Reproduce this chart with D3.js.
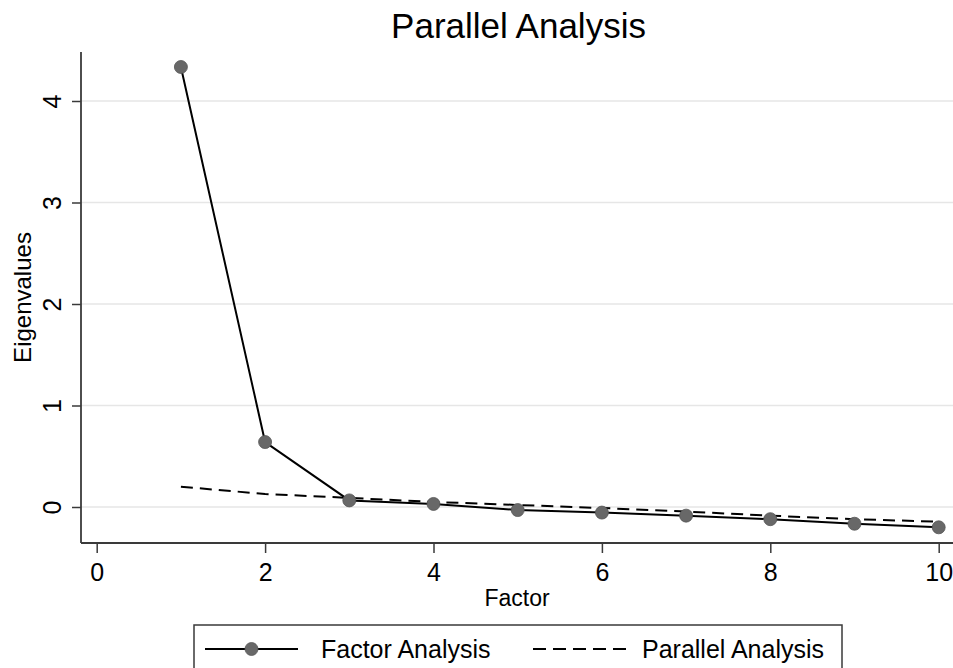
<!DOCTYPE html>
<html>
<head>
<meta charset="utf-8">
<script src="https://cdn.jsdelivr.net/npm/d3@7"></script>
<style>
  body { margin: 0; background: #ffffff; }
  text { font-family: "Liberation Sans", Arial, sans-serif; fill: #000; }
</style>
</head>
<body>
<div id="chart"></div>
<script>
// Chart data
const factors = [1, 2, 3, 4, 5, 6, 7, 8, 9, 10];
const factorEigen = [4.335, 0.64, 0.065, 0.03, -0.03, -0.055, -0.085, -0.12, -0.165, -0.2];
const parallelEigen = [0.20, 0.128, 0.09, 0.05, 0.02, -0.01, -0.045, -0.085, -0.12, -0.145];
const xTicks = [0, 2, 4, 6, 8, 10];
const yTicks = [0, 1, 2, 3, 4];
const legendLabels = ["Factor Analysis", "Parallel Analysis"];

const width = 953;
const height = 668;

// plot area edges
const plotLeft = 81, plotRight = 953, plotTop = 52, plotBottom = 543;

const svg = d3.select("#chart")
    .append("svg")
    .attr("width", width)
    .attr("height", height);

svg.append("rect")
    .attr("width", width)
    .attr("height", height)
    .attr("fill", "#ffffff");

const x = d3.scaleLinear().domain([0, 10]).range([96.7, 938.7]);
const y = d3.scaleLinear().domain([0, 4]).range([507, 101]);

// gridlines
svg.append("g")
    .selectAll("line")
    .data(yTicks)
    .enter()
    .append("line")
    .attr("x1", plotLeft)
    .attr("x2", plotRight)
    .attr("y1", d => y(d))
    .attr("y2", d => y(d))
    .attr("stroke", "#e6e6e6")
    .attr("stroke-width", 1.5);

// y axis
const yAxis = svg.append("g")
    .attr("transform", `translate(${plotLeft},0)`)
    .call(d3.axisLeft(y).tickValues(yTicks).tickSize(9).tickPadding(0).tickFormat(d3.format("d")));
yAxis.select(".domain").attr("d", `M0,${plotTop}V${plotBottom}`);
yAxis.selectAll("line").attr("stroke", "#3a3a3a").attr("stroke-width", 1.5);
yAxis.select(".domain").attr("stroke", "#3a3a3a").attr("stroke-width", 1.8);
yAxis.selectAll("text")
    .attr("x", null).attr("dy", null)
    .attr("transform", "translate(-20,0) rotate(-90)")
    .attr("text-anchor", "middle")
    .style("font-family", "'Liberation Sans', Arial, sans-serif")
    .style("font-size", "25px")
    .attr("fill", "#000");

// x axis
const xAxis = svg.append("g")
    .attr("transform", `translate(0,${plotBottom})`)
    .call(d3.axisBottom(x).tickValues(xTicks).tickSize(10).tickPadding(0).tickFormat(d3.format("d")));
xAxis.select(".domain").attr("d", `M${plotLeft},0H${plotRight}`)
    .attr("stroke", "#3a3a3a").attr("stroke-width", 1.8);
xAxis.selectAll("line").attr("stroke", "#3a3a3a").attr("stroke-width", 1.5);
xAxis.selectAll("text")
    .attr("y", 38).attr("dy", null)
    .style("font-family", "'Liberation Sans', Arial, sans-serif")
    .style("font-size", "25px")
    .attr("fill", "#000");

// axis titles
svg.append("text")
    .attr("x", (plotLeft + plotRight) / 2)
    .attr("y", 606)
    .attr("text-anchor", "middle")
    .style("font-size", "23px")
    .text("Factor");

svg.append("text")
    .attr("transform", `translate(31,${(plotTop + plotBottom) / 2}) rotate(-90)`)
    .attr("text-anchor", "middle")
    .style("font-size", "24px")
    .text("Eigenvalues");

// title
svg.append("text")
    .attr("x", 518.5)
    .attr("y", 38)
    .attr("text-anchor", "middle")
    .style("font-size", "35px")
    .text("Parallel Analysis");

// lines
const line = d3.line()
    .x((d, i) => x(factors[i]))
    .y(d => y(d));

svg.append("path")
    .datum(parallelEigen)
    .attr("d", line)
    .attr("fill", "none")
    .attr("stroke", "#000")
    .attr("stroke-width", 2)
    .attr("stroke-dasharray", "12,7");

svg.append("path")
    .datum(factorEigen)
    .attr("d", line)
    .attr("fill", "none")
    .attr("stroke", "#000")
    .attr("stroke-width", 2);

svg.append("g")
    .selectAll("circle")
    .data(factorEigen)
    .enter()
    .append("circle")
    .attr("cx", (d, i) => x(factors[i]))
    .attr("cy", d => y(d))
    .attr("r", 6.5)
    .attr("fill", "#686868")
    .attr("stroke", "#555")
    .attr("stroke-width", 0.8);

// legend
const legend = svg.append("g");
legend.append("rect")
    .attr("x", 194)
    .attr("y", 625)
    .attr("width", 648)
    .attr("height", 70)
    .attr("fill", "#fff")
    .attr("stroke", "#3a3a3a")
    .attr("stroke-width", 1.5);

legend.append("line")
    .attr("x1", 205).attr("x2", 298)
    .attr("y1", 649).attr("y2", 649)
    .attr("stroke", "#000").attr("stroke-width", 2);
legend.append("circle")
    .attr("cx", 251.5).attr("cy", 649).attr("r", 6.5)
    .attr("fill", "#686868").attr("stroke", "#555").attr("stroke-width", 0.8);
legend.append("text")
    .attr("x", 321).attr("y", 658)
    .style("font-size", "25px")
    .text(legendLabels[0]);

legend.append("line")
    .attr("x1", 533).attr("x2", 627)
    .attr("y1", 649).attr("y2", 649)
    .attr("stroke", "#000").attr("stroke-width", 2)
    .attr("stroke-dasharray", "13,7");
legend.append("text")
    .attr("x", 642).attr("y", 658)
    .style("font-size", "25px")
    .text(legendLabels[1]);
</script>
</body>
</html>
